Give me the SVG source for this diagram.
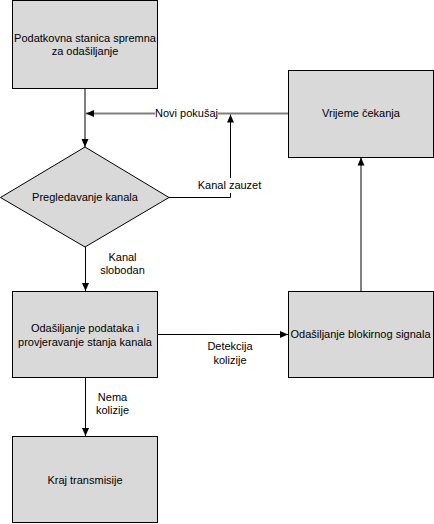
<svg xmlns="http://www.w3.org/2000/svg" width="434" height="524" viewBox="0 0 434 524">
<style>
.box{fill:#d9d9d9;stroke:#000;stroke-width:1}
.t{font-family:"Liberation Sans",Arial,sans-serif;font-size:11px;fill:#000;text-anchor:middle}
.c{fill:none;stroke:#000;stroke-width:1}
.g{fill:none;stroke:#808080;stroke-width:2}
.bg{fill:#fff}
</style>
<defs>
<marker id="ah" markerUnits="userSpaceOnUse" markerWidth="8" markerHeight="8" viewBox="0 0 8 8" refX="8" refY="4" orient="auto">
<path d="M0,0.5 L8,4 L0,7.5 Z" fill="#000"/>
</marker>
</defs>
<rect width="434" height="524" fill="#fff"/>
<g id="connectors">
<line class="c" x1="85" y1="88.5" x2="85" y2="147" stroke-width="2" marker-end="url(#ah)"/>
<line class="g" x1="288" y1="113.5" x2="86" y2="113.5" marker-end="url(#ah)"/>
<polyline class="c" points="169,197.5 230.5,197.5 230.5,114.5" marker-end="url(#ah)"/>
<line class="c" x1="85.5" y1="247" x2="85.5" y2="291" marker-end="url(#ah)"/>
<line class="c" x1="157" y1="334.5" x2="288" y2="334.5" marker-end="url(#ah)"/>
<line class="g" x1="361" y1="291" x2="361" y2="157.5" marker-end="url(#ah)"/>
<line class="c" x1="85.5" y1="378" x2="85.5" y2="436" marker-end="url(#ah)"/>
<rect class="bg" x="155" y="106" width="63" height="14"/>
<text class="t" x="186.5" y="117">Novi pokušaj</text>
<rect class="bg" x="198" y="178" width="63" height="15"/>
<text class="t" x="229.5" y="189">Kanal zauzet</text>
<text class="t" x="122.5" y="261">Kanal</text>
<text class="t" x="122.5" y="274">slobodan</text>
<text class="t" x="230" y="350">Detekcija</text>
<text class="t" x="230" y="364">kolizije</text>
<text class="t" x="112.5" y="401">Nema</text>
<text class="t" x="112.5" y="414">kolizije</text>
</g>
<g id="start">
<rect class="box" x="12.5" y="0.5" width="145" height="88"/>
<text class="t" x="85" y="42">Podatkovna stanica spremna</text>
<text class="t" x="85" y="55">za odašiljanje</text>
</g>
<g id="wait">
<rect class="box" x="288.5" y="70.5" width="145" height="87"/>
<text class="t" x="361" y="117">Vrijeme čekanja</text>
</g>
<g id="check">
<polygon class="box" points="85,147 169,197.5 85,247 0.5,197.5"/>
<text class="t" x="85" y="201">Pregledavanje kanala</text>
</g>
<g id="transmit">
<rect class="box" x="12.5" y="291.5" width="145" height="86"/>
<text class="t" x="85" y="332">Odašiljanje podataka i</text>
<text class="t" x="85" y="346">provjeravanje stanja kanala</text>
</g>
<g id="jam">
<rect class="box" x="288.5" y="291.5" width="145" height="86"/>
<text class="t" x="360.5" y="338">Odašiljanje blokirnog signala</text>
</g>
<g id="end">
<rect class="box" x="12.5" y="436.5" width="145" height="86"/>
<text class="t" x="85" y="484">Kraj transmisije</text>
</g>
</svg>
